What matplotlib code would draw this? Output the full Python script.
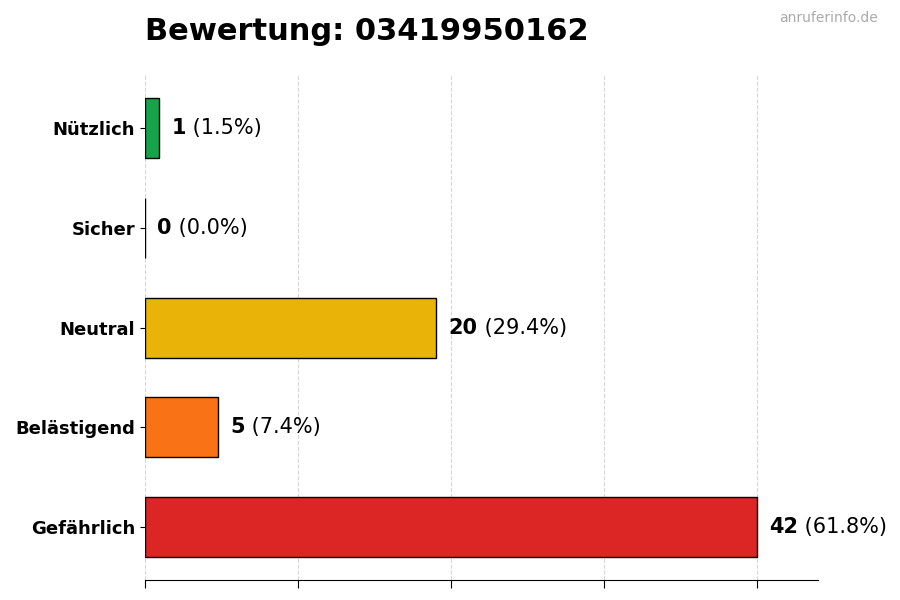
import numpy as np
import matplotlib
matplotlib.use("Agg")
from matplotlib import pyplot as plt

# data (bottom -> top)
categories = ["Gefährlich", "Belästigend", "Neutral", "Sicher", "Nützlich"]
counts = [42, 5, 20, 0, 1]
colors = ["#dc2626", "#f97316", "#eab308", "#3b82f6", "#16a34a"]
phone = "03419950162"

total = sum(counts)
fig = plt.figure(figsize=(9, 6), dpi=100)
ax = fig.add_axes([0.161, 0.033, 0.748, 0.842])

y = np.arange(len(categories))
ax.barh(y, counts, height=0.6, color=colors, edgecolor="black", linewidth=1, zorder=2)

xmax = max(counts) * 1.1
ax.set_xlim(0, xmax)
ax.set_xticks(np.linspace(0, max(counts), 5))
ax.set_xticklabels([])
ax.set_yticks(y)
ax.set_yticklabels(categories, fontsize=13, fontweight="bold")

ax.grid(axis="x", linestyle="--", color="#cccccc", alpha=0.8, zorder=3)
for s in ["top", "right", "left"]:
    ax.spines[s].set_visible(False)
ax.tick_params(axis="x", length=6)

off = max(counts) * 0.02
for yi, c in zip(y, counts):
    pct = c / total * 100
    t = ax.annotate(str(c), (c + off, yi), va="center", ha="left",
                    fontsize=15, fontweight="bold")
    ax.annotate(f" ({pct:.1f}%)", xycoords=t, xy=(1, 0.5), va="center",
                ha="left", fontsize=15)

fig.text(0.161, 0.948, f"Bewertung: {phone}", fontsize=22, fontweight="bold",
         ha="left", va="center")
fig.text(0.975, 0.97, "anruferinfo.de", fontsize=10, color="#aaaaaa",
         ha="right", va="center")

fig.savefig("out.png", dpi=100)
